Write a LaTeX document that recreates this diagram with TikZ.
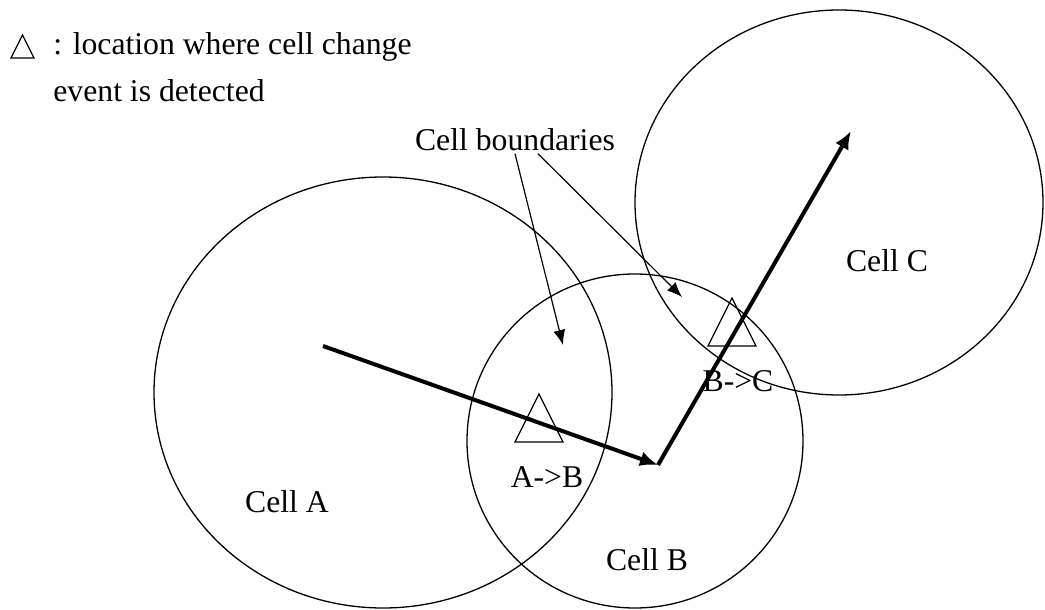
\documentclass[tikz,border=0pt]{standalone}
\usepackage{fontspec}
\setmainfont{Liberation Serif}
\usepackage{tikz}
\usetikzlibrary{arrows.meta,positioning,calc}
\tikzset{
  cell/.style={line width=0.65pt},
  lbl/.style={inner sep=0pt, anchor=base, font=\fontsize{15.85pt}{23.5pt}\selectfont},
  ar/.style={-{Latex[length=7.5pt,width=6pt]}, line width=0.6pt},
  trk/.style={-{Latex[length=9pt,width=7.5pt]}, line width=2pt},
  evt/.pic={\draw[line width=0.65pt] (0,-24) -- (24,24) -- (-24,24) -- cycle;}
}

\begin{document}
\begin{tikzpicture}[x=0.5pt,y=-0.5pt]
\useasboundingbox (0,0) rectangle (1045,610);
% cells
\draw[cell] (383,392.5) ellipse [x radius=229, y radius=215.5];
\draw[cell] (635,441) ellipse [x radius=168, y radius=167];
\draw[cell] (839,202.5) ellipse [x radius=204, y radius=192.5];
% legend
\pic[scale=0.48] (keytri) at (22.5,46.5) {evt};
\node[lbl, anchor=base west] (key) at (53,55) {: location where cell change};
\node[lbl, anchor=base west] (key2) at (53,102) {event is detected};
% labels
\node[lbl] (lA) at (287,512) {Cell A};
\node[lbl] (lB) at (647,570) {Cell B};
\node[lbl] (lC) at (887,271) {Cell C};
\node[lbl] (ab) at (547,487) {A->B};
\node[lbl] (bc) at (738,391) {B->C};
\node[lbl] (bnd) at (515,151) {Cell boundaries};
% detection points
\pic (trAB) at (539,418) {evt};
\pic (trBC) at (732,322) {evt};
% boundary pointers
\coordinate (hitA) at (563,345);
\coordinate (hitC) at (682,297);
\draw[ar] ([yshift=-1pt]bnd.south) -- (hitA);
\draw[ar] ([xshift=11.5pt,yshift=-1pt]bnd.south) -- (hitC);
% movement
\coordinate (entry) at (323,346);
\coordinate (turn) at (658,465);
\coordinate (exitC) at (851,131);
\draw[trk] (entry) -- (turn);
\draw[trk] (turn) -- (exitC);
\end{tikzpicture}
\end{document}
